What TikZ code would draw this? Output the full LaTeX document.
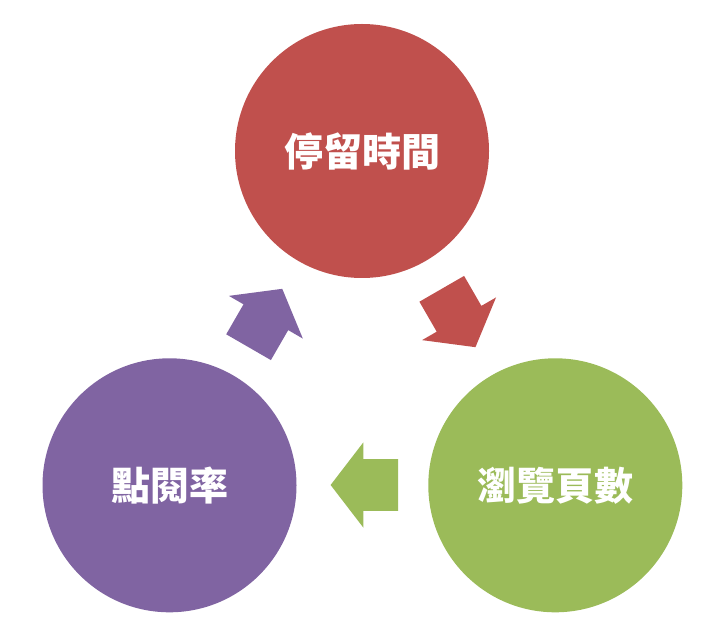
\documentclass[tikz,border=0pt]{standalone}
\usepackage{fontspec}
\usepackage{tikz}
\usepackage{xcolor}
\newfontfamily\cjk{Noto Sans CJK TC}
\definecolor{stage-red}{HTML}{C0504D}
\definecolor{stage-green}{HTML}{9BBB59}
\definecolor{stage-purple}{HTML}{8064A2}
\tikzset{
    stage-circle/.style = {circle, minimum size=254pt, inner sep=0pt, text=white, font=\cjk\bfseries\fontsize{39}{39}\selectfont},
    flow-arrow/.pic = {\fill (-33.7,-25.8) -- (0.9,-25.8) -- (0.9,-42.7) -- (33.7,0) -- (0.9,42.7) -- (0.9,25.8) -- (-33.7,25.8) -- cycle;},
}

\begin{document}
\begin{tikzpicture}[x=1pt, y=1pt]
\useasboundingbox (0,0) rectangle (722,638);
\node [stage-circle, fill=stage-red] (stay) at (362,487) {停留時間};
\node [stage-circle, fill=stage-green] (pages) at (555.3,152.7) {瀏覽頁數};
\node [stage-circle, fill=stage-purple] (clicks) at (169.5,152.7) {點閱率};
\pic [fill=stage-red, rotate=-60] at (458.6,320) {flow-arrow};
\pic [fill=stage-green, rotate=180] at (364.3,153) {flow-arrow};
\pic [fill=stage-purple, rotate=60] at (265.4,320) {flow-arrow};
\end{tikzpicture}
\end{document}
